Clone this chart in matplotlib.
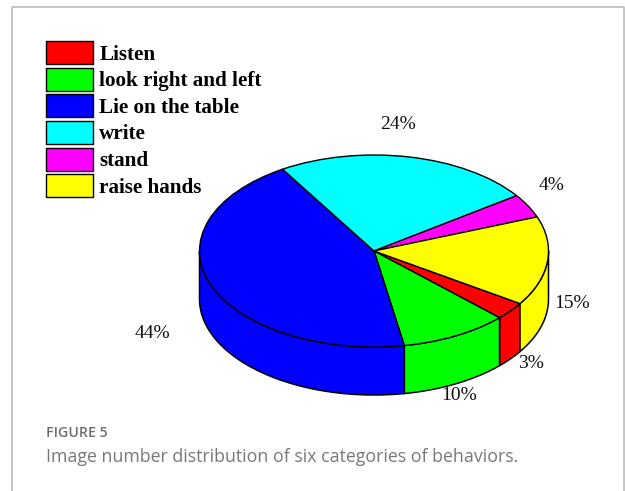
import numpy as np
import matplotlib
matplotlib.use('Agg')
import matplotlib.pyplot as plt
from matplotlib.lines import Line2D
from matplotlib.patches import Polygon

# behaviour categories and share of images
labels = ['Listen', 'look right and left', 'Lie on the table', 'write', 'stand', 'raise hands']
values = [3, 10, 44, 24, 4, 15]
colors = ['#ff0000', '#00ff00', '#0000ff', '#00ffff', '#ff00ff', '#ffff00']
pct_text = ['3%', '10%', '44%', '24%', '4%', '15%']
pct_x = [531, 459, 152, 398, 552, 572]   # label centres, in pixels
pct_y = [364, 395, 333, 125, 186, 303]

W, H = 625, 491
start = -33.2
depth = 0.5  # wall height, in units of the short radius

fig = plt.figure(figsize=(W / 100, H / 100), dpi=100)

# unit circle gets squashed to an ellipse by the axes shape
ax = fig.add_axes([199.5 / W, (H - 395) / H, 349 / W, 240 / H])
wedges, _ = ax.pie(values, colors=colors, startangle=start, counterclock=False,
                   wedgeprops={'edgecolor': 'black', 'linewidth': 1.0, 'zorder': 3})
ax.set_aspect('auto')
ax.set_xlim(-1, 1)
ax.set_ylim(-1 - depth, 1)
ax.axis('off')

# side walls, only the front half of the cylinder shows
ang = start
for v, c in zip(values, colors):
    a1 = ang
    a2 = ang - v * 3.6
    ang = a2
    # last slice runs past a full turn, bring it back round
    if a2 < -360:
        a1 += 360
        a2 += 360
    hi = min(a1, 0)
    lo = max(a2, -180)
    if hi <= lo:
        continue
    t = np.radians(np.linspace(hi, lo, 60))
    x = np.cos(t)
    y = np.sin(t)
    pts = np.column_stack([np.r_[x, x[::-1]], np.r_[y, y[::-1] - depth]])
    ax.add_patch(Polygon(pts, closed=True, facecolor=c, edgecolor='black',
                         linewidth=1.1, zorder=2, clip_on=False))

leg = fig.legend(wedges, labels, loc='upper left', bbox_to_anchor=(46 / W, 1 - 41 / H),
                 bbox_transform=fig.transFigure, frameon=False, borderpad=0, borderaxespad=0,
                 handlelength=2.23, handleheight=1.3, labelspacing=0.145, handletextpad=0.3,
                 prop={'family': 'Liberation Serif', 'weight': 'bold', 'size': 15.2})

for s, px, py in zip(pct_text, pct_x, pct_y):
    fig.text(px / W, 1 - py / H, s, ha='center', va='center',
             family='Liberation Serif', fontsize=14, color='#111111')

# article panel border, open at the bottom
gray = '#b5b5b5'
fig.add_artist(Line2D([11.5 / W, 11.5 / W, 624 / W, 624 / W],
                      [0, 1 - 7 / H, 1 - 7 / H, 0], color=gray, lw=1.1))

fig.text(46 / W, 1 - 433 / H, 'FIGURE 5', family='Open Sans', fontweight='semibold',
         fontsize=10.2, color='#6d6e71', ha='left', va='center')
fig.text(46 / W, 1 - 457 / H, 'Image number distribution of six categories of behaviors.',
         family='Open Sans', fontsize=12.8, color='#77787b', ha='left', va='center')

fig.savefig('out.png', dpi=100)
